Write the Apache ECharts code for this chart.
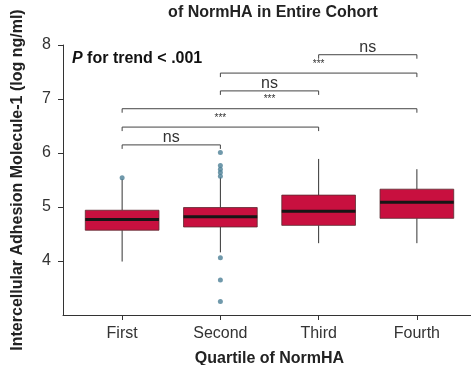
<!DOCTYPE html>
<html><head><meta charset="utf-8">
<script src="https://cdn.jsdelivr.net/npm/echarts@6/dist/echarts.min.js"></script>
<style>html,body{margin:0;padding:0;background:#fff}#c{width:471px;height:365px}</style>
</head><body><div id="c"></div>
<script>
var categories = ['First', 'Second', 'Third', 'Fourth'];
// [min whisker, Q1, median, Q3, max whisker]
var boxStats = [
  [3.99, 4.57, 4.77, 4.94, 5.52],
  [4.16, 4.63, 4.82, 4.99, 5.55],
  [4.33, 4.66, 4.92, 5.22, 5.89],
  [4.33, 4.79, 5.09, 5.33, 5.70]
];
var outliers = [
  [0, 5.54],
  [1, 6.01], [1, 5.77], [1, 5.70], [1, 5.64], [1, 5.57],
  [1, 4.06], [1, 3.65], [1, 3.25]
];
var bracketFrom = [2, 1, 1, 0, 0, 0];
var bracketTo = [3, 3, 2, 3, 2, 1];
var bracketLevel = [7.82, 7.48, 7.15, 6.82, 6.48, 6.15];
var bracketLabel = ['ns', '***', 'ns', '***', '***', 'ns'];
var yTicks = [4, 5, 6, 7, 8];

var FONT = 'Liberation Sans, Arial, Helvetica, sans-serif';
var chart = echarts.init(document.getElementById('c'));

var bracketData = bracketFrom.map(function (f, i) {
  return [f, bracketTo[i], bracketLevel[i], bracketLabel[i]];
});

chart.setOption({
  animation: false,
  textStyle: { fontFamily: FONT },
  title: {
    text: 'of NormHA in Entire Cohort', left: 268, top: 0, textAlign: 'center',
    textStyle: { fontSize: 16, fontWeight: 'bold', color: '#222', fontFamily: FONT }
  },
  graphic: [{
    type: 'text', left: 72, top: 51,
    style: {
      rich: {
        p: { fontStyle: 'italic', fontWeight: 'bold', fontSize: 16, fill: '#111', fontFamily: FONT },
        t: { fontWeight: 'bold', fontSize: 16, fill: '#111', fontFamily: FONT }
      },
      text: '{p|P}{t| for trend < .001}'
    }
  }],
  grid: [
    { left: 73, right: 5, top: 45, bottom: 50, containLabel: false, outerBoundsMode: 'none' },
    { left: 63, right: 0, top: 45, bottom: 50, containLabel: false, outerBoundsMode: 'none' }
  ],
  xAxis: [
    {
      type: 'category', gridIndex: 0, data: categories, boundaryGap: true,
      axisLine: { show: false },
      axisTick: { show: true, alignWithLabel: true, length: 5, lineStyle: { color: '#333' } },
      axisLabel: { fontSize: 16, color: '#333', margin: 11, fontFamily: FONT },
      name: 'Quartile of NormHA', nameLocation: 'middle', nameGap: 36,
      nameTextStyle: { fontSize: 16, fontWeight: 'bold', color: '#222', fontFamily: FONT }
    },
    {
      type: 'value', gridIndex: 1, min: 0, max: 1,
      axisLine: { show: true, lineStyle: { color: '#333' } },
      axisTick: { show: false }, axisLabel: { show: false }, splitLine: { show: false }
    }
  ],
  yAxis: [
    { type: 'value', gridIndex: 0, min: 3, max: 8, show: false },
    {
      type: 'value', gridIndex: 1, min: 3, max: 8, interval: 1,
      axisLine: { show: true, lineStyle: { color: '#333' } },
      axisTick: { show: true, length: 5, customValues: yTicks, lineStyle: { color: '#333' } },
      axisLabel: { fontSize: 16, color: '#333', margin: 12, customValues: yTicks, fontFamily: FONT },
      splitLine: { show: false },
      name: 'Intercellular Adhesion Molecule-1 (log ng/ml)', nameLocation: 'middle', nameGap: 37,
      nameTextStyle: { fontSize: 16, fontWeight: 'bold', color: '#222', fontFamily: FONT }
    }
  ],
  series: [
    {
      type: 'custom', xAxisIndex: 0, yAxisIndex: 0,
      data: boxStats.map(function (s, i) { return [i].concat(s); }),
      renderItem: function (params, api) {
        var x = api.value(0);
        var pMin = api.coord([x, api.value(1)]);
        var pQ1 = api.coord([x, api.value(2)]);
        var pMed = api.coord([x, api.value(3)]);
        var pQ3 = api.coord([x, api.value(4)]);
        var pMax = api.coord([x, api.value(5)]);
        var w = api.size([1, 0])[0] * 0.75;
        var cx = pMed[0];
        var lineStyle = { stroke: '#333', lineWidth: 1 };
        return {
          type: 'group',
          children: [
            { type: 'line', shape: { x1: cx, y1: pMax[1], x2: cx, y2: pQ3[1] }, style: lineStyle },
            { type: 'line', shape: { x1: cx, y1: pQ1[1], x2: cx, y2: pMin[1] }, style: lineStyle },
            { type: 'rect', shape: { x: cx - w / 2, y: pQ3[1], width: w, height: pQ1[1] - pQ3[1] },
              style: { fill: '#c8103f', stroke: '#5a2a30', lineWidth: 0.8 } },
            { type: 'line', shape: { x1: cx - w / 2, y1: pMed[1], x2: cx + w / 2, y2: pMed[1] },
              style: { stroke: '#161616', lineWidth: 3 } }
          ]
        };
      }
    },
    {
      type: 'scatter', xAxisIndex: 0, yAxisIndex: 0, data: outliers,
      symbolSize: 5, itemStyle: { color: '#4c7f96' }
    },
    {
      type: 'custom', xAxisIndex: 0, yAxisIndex: 0, data: bracketData,
      renderItem: function (params, api) {
        var a = api.coord([api.value(0), api.value(2)]);
        var b = api.coord([api.value(1), api.value(2)]);
        var lab = bracketLabel[params.dataIndex];
        var isNs = lab === 'ns';
        return {
          type: 'group',
          children: [
            { type: 'polyline', shape: { points: [[a[0], a[1] + 4], [a[0], a[1]], [b[0], b[1]], [b[0], b[1] + 4]] },
              style: { stroke: '#444', lineWidth: 1, fill: null } },
            { type: 'text', style: {
                text: lab, x: (a[0] + b[0]) / 2, y: a[1] + (isNs ? 1 : -4),
                textAlign: 'center', textVerticalAlign: 'bottom',
                fontSize: isNs ? 16 : 10, fill: '#333', fontFamily: FONT
              } }
          ]
        };
      }
    }
  ]
});
</script></body></html>
